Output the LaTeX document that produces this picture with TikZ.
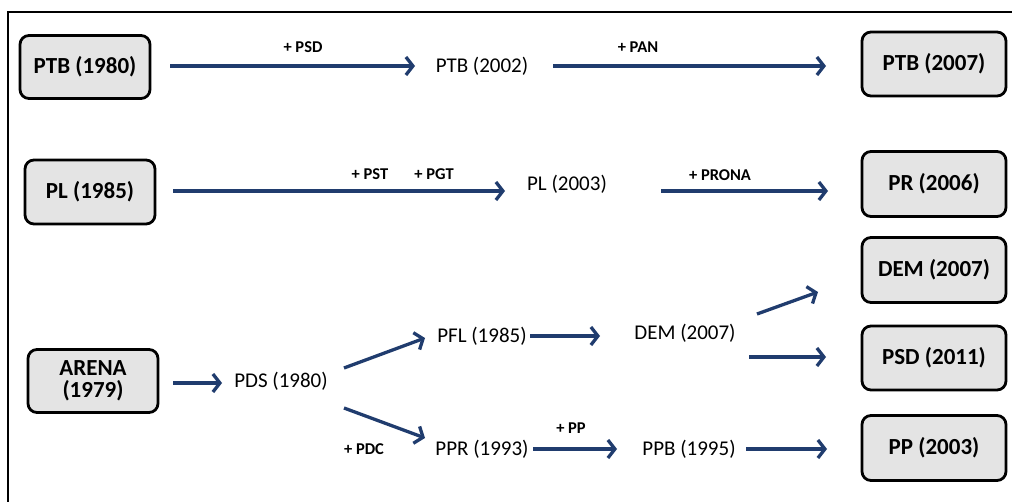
\documentclass[tikz,border=0pt]{standalone}
\usepackage{fontspec}
\setmainfont{Carlito}
\usetikzlibrary{arrows.meta}
\definecolor{arr}{RGB}{32,60,110}
\definecolor{boxfill}{RGB}{228,228,228}
\tikzset{
  pbox/.style={draw=black, line width=2.8pt, rounded corners=9pt, fill=boxfill,
    font=\fontsize{23}{24}\selectfont\bfseries, align=center, inner sep=0pt},
  ptxt/.style={font=\fontsize{21}{22}\selectfont, inner sep=1pt},
  plab/.style={font=\fontsize{16.5}{17}\selectfont\bfseries, inner sep=1pt},
  parr/.style={draw=arr, line width=3.3pt, -{Straight Barb[length=7pt,width=18pt]}},
}
\begin{document}
\begin{tikzpicture}[x=1pt,y=-1pt]
\useasboundingbox (0,0) rectangle (1012,502);
\fill[white] (0,0) rectangle (1012,502);
\draw[line width=2pt] (8,502) -- (8,12) -- (1012,12);

% boxes
\node[pbox, minimum width=130pt, minimum height=63pt] (ptb80) at (85,67) {PTB (1980)};
\node[pbox, minimum width=130pt, minimum height=64pt] (pl85) at (90,192) {PL (1985)};
\node[pbox, minimum width=130pt, minimum height=63pt] (arena) at (93,381) {ARENA\\[-2pt](1979)};
\node[pbox, minimum width=144pt, minimum height=64pt] (ptb07) at (934,64) {PTB (2007)};
\node[pbox, minimum width=144pt, minimum height=65pt] (pr06) at (934,184) {PR (2006)};
\node[pbox, minimum width=144pt, minimum height=65pt] (dembox) at (934,270) {DEM (2007)};
\node[pbox, minimum width=144pt, minimum height=64pt] (psd11) at (934,358) {PSD (2011)};
\node[pbox, minimum width=144pt, minimum height=65pt] (pp03) at (934,448) {PP (2003)};

% intermediate texts
\node[ptxt] (ptb02) at (482,66) {PTB (2002)};
\node[ptxt] (pl03) at (567,184) {PL (2003)};
\node[ptxt] (pds) at (281,381) {PDS (1980)};
\node[ptxt] (pfl) at (482,336) {PFL (1985)};
\node[ptxt] (ppr) at (482,449) {PPR (1993)};
\node[ptxt] (dem) at (685,333) {DEM (2007)};
\node[ptxt] (ppb) at (689,449) {PPB (1995)};

% labels
\node[plab] (lpsd) at (303,47) {+ PSD};
\node[plab] (lpan) at (638,47) {+ PAN};
\node[plab] (lpst) at (370,174) {+ PST};
\node[plab] (lpgt) at (434,174) {+ PGT};
\node[plab] (lprona) at (720,175) {+ PRONA};
\node[plab] (lpdc) at (364,449) {+ PDC};
\node[plab] (lpp) at (571,428) {+ PP};

% connector end points
\coordinate (a1s) at (170,66);  \coordinate (a1e) at (415,66);
\coordinate (a2s) at (553,66);  \coordinate (a2e) at (826,66);
\coordinate (a3s) at (173,191); \coordinate (a3e) at (505,191);
\coordinate (a4s) at (661,191); \coordinate (a4e) at (828,191);
\coordinate (a5s) at (173,383); \coordinate (a5e) at (222,383);
\coordinate (a6s) at (344,368); \coordinate (a6e) at (425,338);
\coordinate (a7s) at (344,408); \coordinate (a7e) at (425,438);
\coordinate (a8s) at (530,336); \coordinate (a8e) at (600,336);
\coordinate (a9s) at (757,314); \coordinate (a9e) at (818,292);
\coordinate (a10s) at (749,357); \coordinate (a10e) at (826,357);
\coordinate (a11s) at (533,449); \coordinate (a11e) at (617,449);
\coordinate (a12s) at (746,449); \coordinate (a12e) at (827,449);

\draw[parr] (a1s) -- (a1e);
\draw[parr] (a2s) -- (a2e);
\draw[parr] (a3s) -- (a3e);
\draw[parr] (a4s) -- (a4e);
\draw[parr] (a5s) -- (a5e);
\draw[parr] (a6s) -- (a6e);
\draw[parr] (a7s) -- (a7e);
\draw[parr] (a8s) -- (a8e);
\draw[parr] (a9s) -- (a9e);
\draw[parr] (a10s) -- (a10e);
\draw[parr] (a11s) -- (a11e);
\draw[parr] (a12s) -- (a12e);
\end{tikzpicture}
\end{document}
